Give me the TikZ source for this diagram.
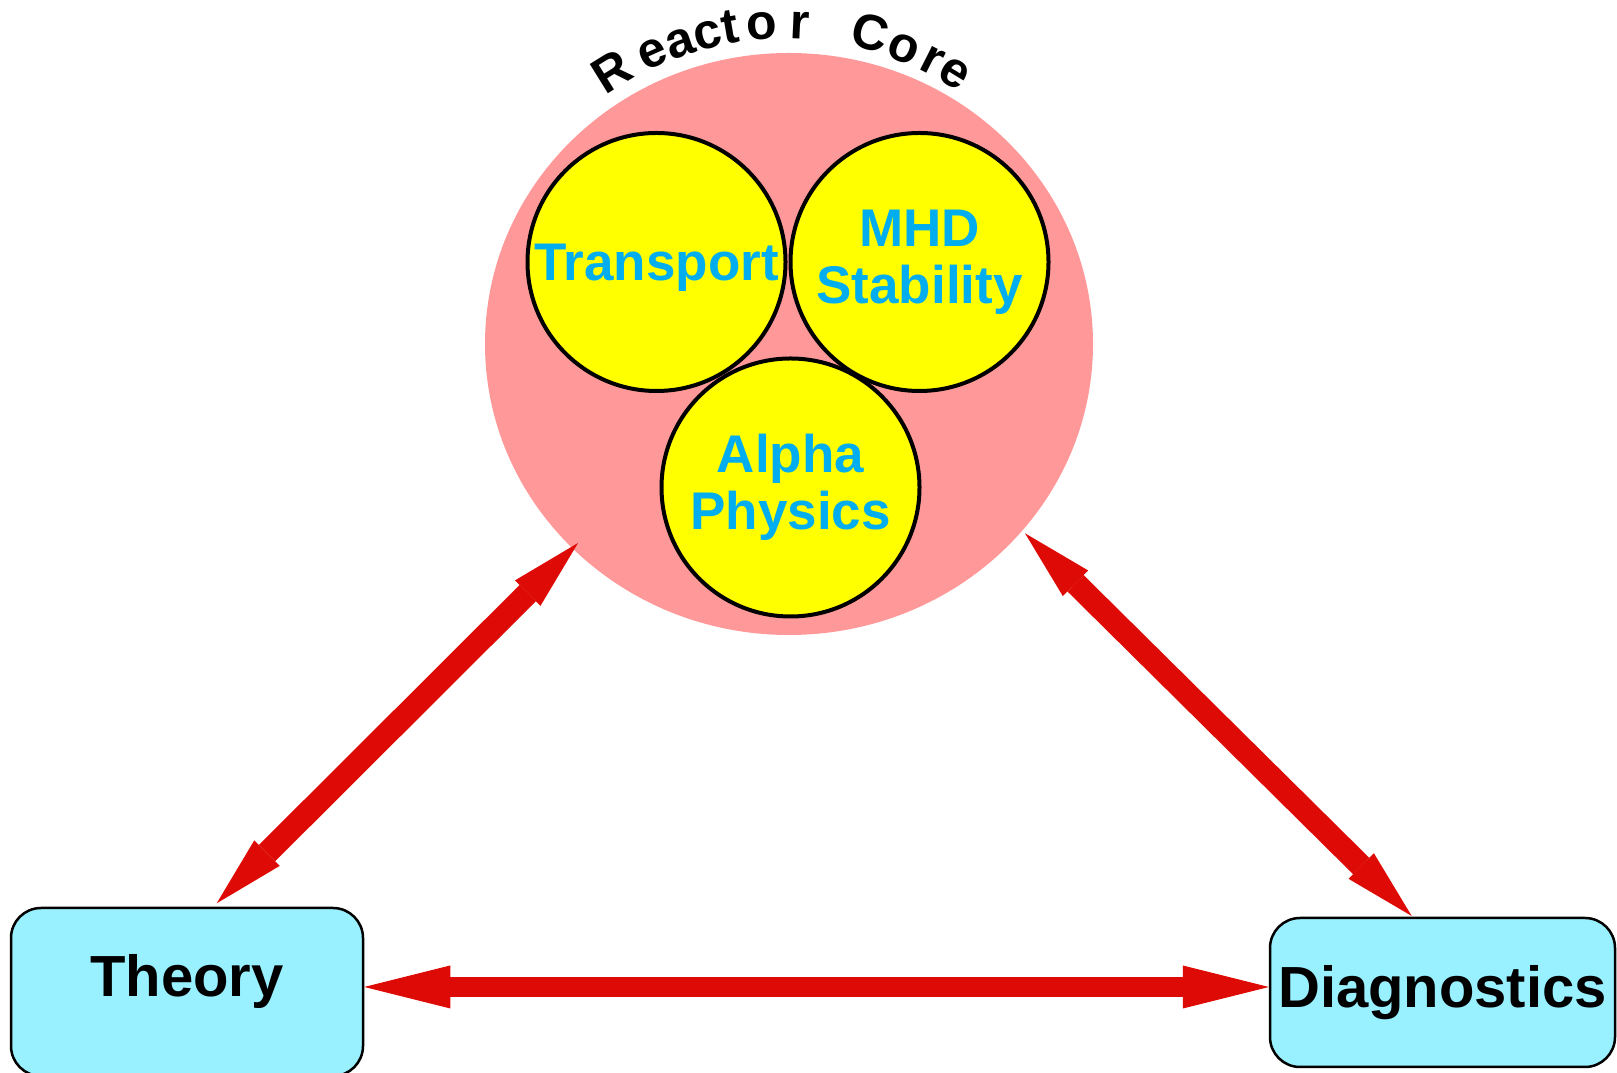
\documentclass[tikz,border=0pt]{standalone}
\usepackage{fontspec}
\setmainfont{Liberation Sans}
\usetikzlibrary{arrows.meta,shapes.geometric}
\definecolor{pinkcore}{RGB}{255,153,153}
\definecolor{yel}{RGB}{255,255,0}
\definecolor{cyantext}{RGB}{0,174,239}
\definecolor{boxfill}{RGB}{153,240,255}
\definecolor{arrred}{RGB}{221,10,5}
\begin{document}
\begin{tikzpicture}[x=1pt,y=1pt,
  coreshape/.style={ellipse, fill=pinkcore, draw=none, inner sep=0pt,
    minimum width=608pt, minimum height=582pt},
  topic/.style={circle, draw=black, line width=4pt, fill=yel, minimum size=258pt,
    inner sep=0pt, text=cyantext, font=\fontsize{53}{57}\selectfont\bfseries, align=center},
  groupbox/.style={draw=black, line width=2.5pt, fill=boxfill, rounded corners=30pt,
    inner xsep=0pt, inner ysep=0pt, font=\fontsize{58}{58}\selectfont\bfseries, anchor=base},
  rcletter/.style={font=\fontsize{50}{50}\selectfont\bfseries, anchor=base, inner sep=0pt},
  bigarrow/.style={draw=arrred, line width=20pt,
    {Triangle[length=86pt,width=43pt,line width=0pt]}-{Triangle[length=86pt,width=43pt,line width=0pt]}},
  diagarrow/.style={draw=arrred, line width=23pt,
    {Triangle[length=71pt,width=36pt,line width=0pt]}-{Triangle[length=71pt,width=36pt,line width=0pt]}}
]
\useasboundingbox (0,0) rectangle (1617,1073);

% reactor core
\node[coreshape] (core) at (789,729) {};

% curved title
\foreach \ch/\ang [count=\i] in {R/121.8, e/114.1, a/108.8, c/103.7, t/99.7, o/94.1, r/87.3, C/75, o/68.5, r/63.1, e/58.5}
  \node[rcletter, rotate=\ang-90] (rc\i) at ([shift={(\ang:311pt)}]785,723) {\ch};

% arrows
\coordinate (tA) at (216.7,169.7);
\coordinate (cA) at (578,530);
\coordinate (cB) at (1025,539.7);
\coordinate (dB) at (1411.7,157);
\draw[diagarrow] (tA) -- (cA);
\draw[diagarrow] (cB) -- (dB);

% topics
\node[topic, text height=37pt, text depth=0pt] (transport) at (656.5,811) {Transport};
\node[topic] (mhd) at (919.5,811) {MHD\\Stability};
\node[topic] (alpha) at (790.5,585.5) {Alpha\\Physics};

% boxes
\node[groupbox, text height=89pt, text depth=79pt, minimum width=352pt] (theory) at (187,76) {Theory};
\node[groupbox, text height=90pt, text depth=59pt, minimum width=345pt] (diag) at (1442.5,65) {Diagnostics};

\draw[bigarrow] ([yshift=5pt]theory.east) -- ([yshift=5pt]theory.east -| diag.west);
\end{tikzpicture}
\end{document}
